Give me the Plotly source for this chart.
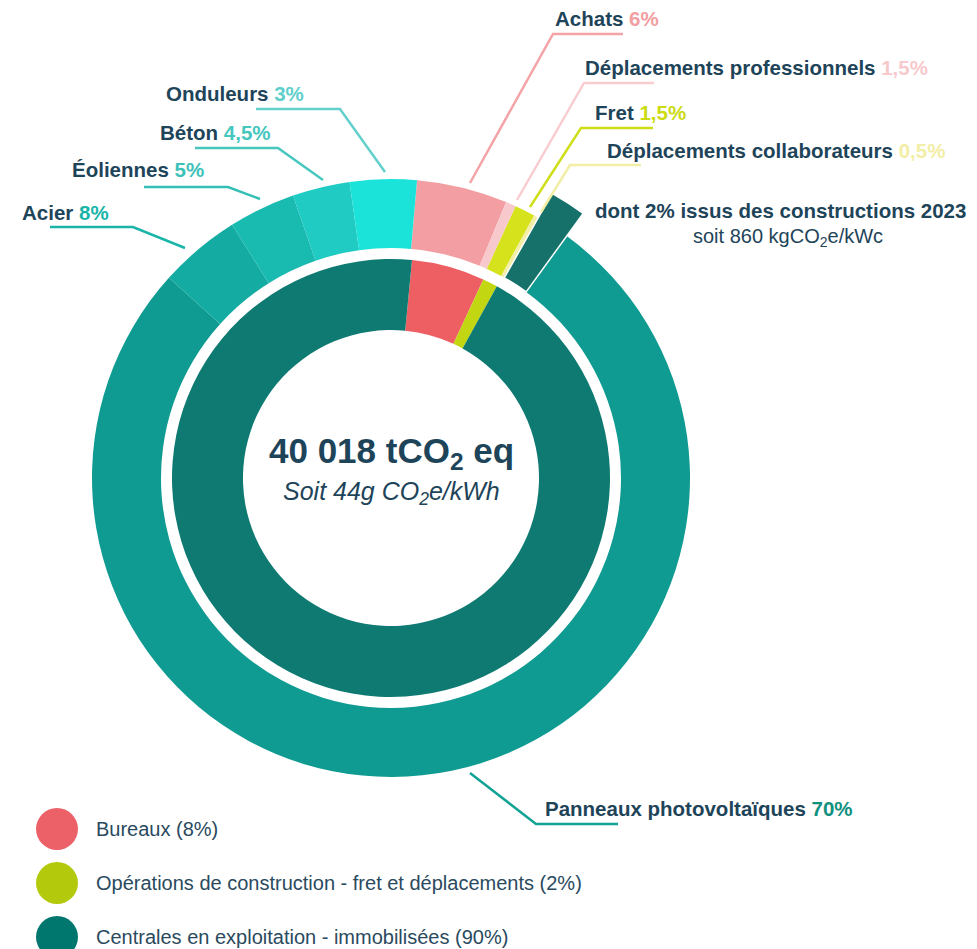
import plotly.graph_objects as go

# ---------------- data ----------------
outer_labels = ["Achats", "Déplacements professionnels", "Fret", "Déplacements collaborateurs",
                "dont 2% issus des constructions 2023", "Panneaux photovoltaïques",
                "Acier", "Éoliennes", "Béton", "Onduleurs"]
outer_pct_text = ["6%", "1,5%", "1,5%", "0,5%", "2%", "70%", "8%", "5%", "4,5%", "3%"]
# slice sizes as drawn in the reference
outer_values = [4.9, 0.55, 1.1, 0.25, 1.8, 76.6, 4.4, 3.6, 3.1, 3.6]
outer_colors = ["#F29EA2", "#F8C9CC", "#D6E21C", "#F2EEA6", "#17716B", "#0F9B91",
                "#14ACA2", "#19BAB0", "#1FCBC2", "#1BE3DA"]

inner_labels = ["Bureaux (8%)", "Opérations de construction - fret et déplacements (2%)",
                "Centrales en exploitation - immobilisées (90%)"]
inner_values = [5.4, 1.1, 93.5]
inner_colors = ["#EE5F64", "#C2D611", "#0E7A72"]
legend_colors = ["#EC6167", "#B3CA0C", "#00776E"]

center_title = "40 018 tCO<sub>2</sub> eq"
center_sub = "Soit 44g CO<sub>2</sub>e/kWh"
note_sub = "soit 860 kgCO<sub>2</sub>e/kWc"

# ---------------- layout helpers ----------------
OFF = 8                     # page body margin
FW, FH = 977 - OFF, 949 - OFF
NAVY = "#1E4459"


def px(x):
    return (x - OFF) / FW


def py(y):
    return 1 - (y - OFF) / FH


def dom(cx, cy, r):
    return dict(x=[px(cx - r), px(cx + r)], y=[py(cy + r), py(cy - r)])


CX, CY = 391, 478

fig = go.Figure()

# outer ring
fig.add_trace(go.Pie(
    labels=outer_labels, values=outer_values, sort=False, direction="clockwise",
    rotation=5, hole=230 / 299, domain=dom(CX, CY, 299),
    marker=dict(colors=outer_colors, line=dict(width=0)),
    textinfo="none", hoverinfo="label", showlegend=False,
))

# extended (highlighted) 2% slice
ext_colors = ["rgba(0,0,0,0)"] * len(outer_values)
ext_colors[4] = outer_colors[4]
ext_line = [0] * len(outer_values)
ext_line[4] = 1.5
fig.add_trace(go.Pie(
    labels=outer_labels, values=outer_values, sort=False, direction="clockwise",
    rotation=5, hole=230 / 327, domain=dom(CX, CY, 327),
    marker=dict(colors=ext_colors, line=dict(width=ext_line, color="white")),
    textinfo="none", hoverinfo="skip", showlegend=False,
))

# inner ring
fig.add_trace(go.Pie(
    labels=inner_labels, values=inner_values, sort=False, direction="clockwise",
    rotation=5.5, hole=148 / 219, domain=dom(CX, CY, 219),
    marker=dict(colors=inner_colors, line=dict(width=0)),
    textinfo="none", hoverinfo="label", showlegend=False,
))

annotations = []
shapes = []

FONT = "Liberation Sans, Arial, sans-serif"
LS = 20.5


def label(idx, x, y, pct_color, line_color, pts):
    txt = f"<b>{outer_labels[idx]} <span style='color:{pct_color}'>{outer_pct_text[idx]}</span></b>"
    annotations.append(dict(x=px(x), y=py(y), xref="paper", yref="paper", text=txt,
                            showarrow=False, xanchor="left", yanchor="middle",
                            font=dict(family=FONT, size=LS, color=NAVY)))
    path = "M " + " L ".join(f"{px(a)},{py(b)}" for a, b in pts)
    shapes.append(dict(type="path", path=path, xref="paper", yref="paper",
                       line=dict(color=line_color, width=2.5)))


label(0, 553, 18, "#F29EA2", "#F4A3A6", [(623, 34), (553, 34), (470, 183)])
label(1, 583, 68, "#F8C9CC", "#F9CDD0", [(654, 83), (584, 83), (517, 200)])
label(2, 593, 112, "#CBDB12", "#D0DE1A", [(653, 128), (581, 128), (530, 207)])
label(3, 605, 150, "#F2EEA6", "#F2EEA6", [(641, 165), (570, 165), (541, 212)])
label(9, 164, 93, "#5ECFCB", "#63D0CC", [(256, 109), (340, 109), (385, 172)])
label(8, 158, 133, "#45C6BE", "#48C7BF", [(195, 148), (278, 148), (323, 180)])
label(7, 70, 170, "#3CC2B9", "#34BFB6", [(144, 187), (228, 187), (260, 199)])
label(6, 20, 212, "#18B4A9", "#1AB4A9", [(50, 227), (133, 227), (185, 248)])
label(5, 543, 808, "#10907F", "#12A394", [(618, 824), (536, 824), (470, 773)])

# highlighted slice note
annotations.append(dict(x=px(593), y=py(210), xref="paper", yref="paper",
                        text="<b>" + outer_labels[4] + "</b>", showarrow=False,
                        xanchor="left", yanchor="middle",
                        font=dict(family=FONT, size=LS, color=NAVY)))
annotations.append(dict(x=px(788), y=py(237), xref="paper", yref="paper",
                        text=note_sub, showarrow=False, xanchor="center", yanchor="middle",
                        font=dict(family=FONT, size=20, color=NAVY)))

# center text
annotations.append(dict(x=px(CX), y=py(453), xref="paper", yref="paper",
                        text="<b>" + center_title + "</b>", showarrow=False,
                        xanchor="center", yanchor="middle",
                        font=dict(family=FONT, size=35, color=NAVY)))
annotations.append(dict(x=px(CX), y=py(493), xref="paper", yref="paper",
                        text="<i>" + center_sub + "</i>", showarrow=False,
                        xanchor="center", yanchor="middle",
                        font=dict(family=FONT, size=25, color=NAVY)))

# legend (custom)
for i, (lab, col) in enumerate(zip(inner_labels, legend_colors)):
    yc = 829 + 54 * i
    shapes.append(dict(type="circle", xref="paper", yref="paper",
                       x0=px(36), x1=px(78), y0=py(yc + 21), y1=py(yc - 21),
                       fillcolor=col, line=dict(width=0)))
    annotations.append(dict(x=px(94), y=py(yc), xref="paper", yref="paper", text=lab,
                            showarrow=False, xanchor="left", yanchor="middle",
                            font=dict(family=FONT, size=20, color="#2A4A5E")))

fig.update_layout(
    width=FW, height=FH, margin=dict(l=0, r=0, t=0, b=0),
    paper_bgcolor="white", plot_bgcolor="white",
    annotations=annotations, shapes=shapes, showlegend=False,
)

fig.write_html("out.html")
